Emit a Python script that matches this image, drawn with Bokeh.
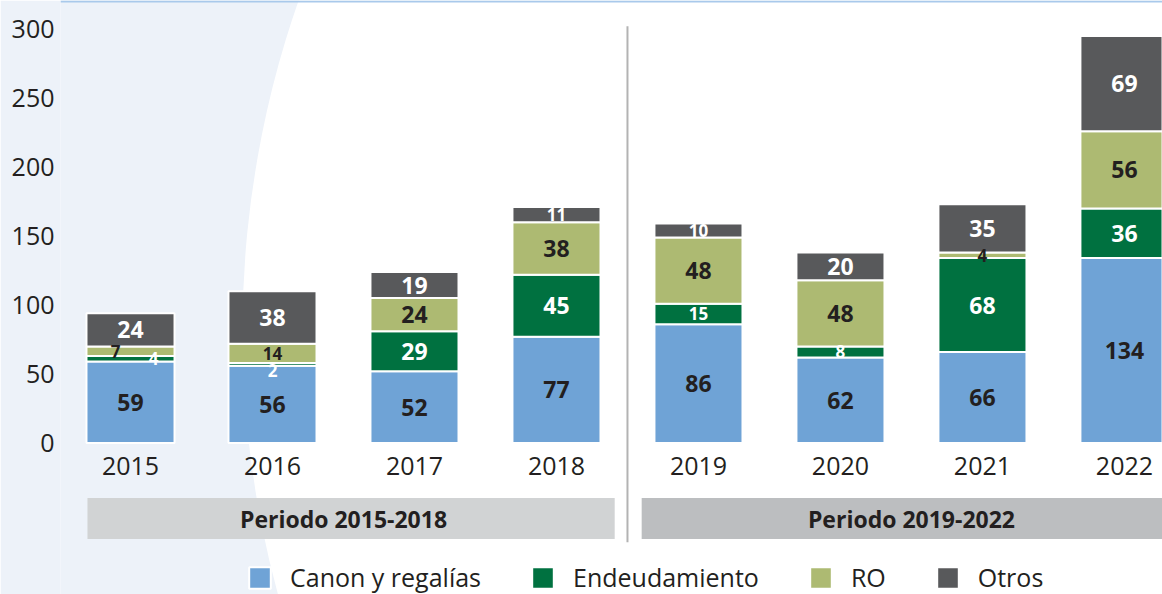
from bokeh.plotting import figure
from bokeh.models import ColumnDataSource, Range1d, FixedTicker, Legend, LegendItem, Span
from bokeh.core.properties import value
from bokeh.embed import file_html
from bokeh.resources import INLINE

# ---------------- data ----------------
years = ["2015", "2016", "2017", "2018", "2019", "2020", "2021", "2022"]
canon = [59, 56, 52, 77, 86, 62, 66, 134]
endeudamiento = [4, 2, 29, 45, 15, 8, 68, 36]
ro = [7, 14, 24, 38, 48, 48, 4, 56]
otros = [24, 38, 19, 11, 10, 20, 35, 69]
series_labels = ["Canon y regalías", "Endeudamiento", "RO", "Otros"]
periods = ["Periodo 2015-2018", "Periodo 2019-2022"]
period_years = [years[0:4], years[4:8]]
y_ticks = [0, 50, 100, 150, 200, 250, 300]

# ---------------- styles ----------------
colors = ["#6fa3d6", "#007140", "#adba72", "#58595b"]
label_colors = ["#231f20", "#ffffff", "#231f20", "#ffffff"]
band_colors = ["#d1d3d4", "#bcbec0"]
bg_blue = "#edf2f9"
dark = "#231f20"
FONT = "Open Sans"

series_keys = ["canon", "endeud", "ro", "otros"]
series_vals = [canon, endeudamiento, ro, otros]
xs = list(range(len(years)))

src = ColumnDataSource(dict(x=xs, canon=canon, endeud=endeudamiento, ro=ro, otros=otros))

p = figure(width=1162, height=594, output_backend="svg", toolbar_location=None,
           x_range=Range1d(-0.493, 7.268), y_range=Range1d(-109.8, 320.7),
           x_axis_location=None, min_border_left=60, min_border_right=0,
           min_border_top=0, min_border_bottom=0)
p.background_fill_color = bg_blue
p.border_fill_color = bg_blue
p.outline_line_color = None
p.xgrid.visible = False
p.ygrid.visible = False

# background white disk (decorative)
p.scatter(x=[7.831], y=[81.5], size=2000, marker="circle", fill_color="white", line_color=None)

# top thin line
p.add_layout(Span(location=320.0, dimension="width", line_color="#a9c9eb", line_width=2))

# y axis
ax = p.yaxis[0]
ax.ticker = FixedTicker(ticks=y_ticks)
ax.axis_line_color = None
ax.major_tick_line_color = None
ax.minor_tick_line_color = None
ax.major_tick_out = 0
ax.major_tick_in = 0
ax.major_label_text_font = FONT
ax.major_label_text_font_size = "25px"
ax.major_label_text_color = dark
ax.major_label_standoff = 6

# bars
bar_w = 0.62
rs = p.vbar_stack(series_keys, x="x", width=bar_w, color=colors, source=src,
                  line_color="white", line_width=2)

# divider between periods
p.segment(x0=[3.5], y0=[302], x1=[3.5], y1=[-72], line_color="#b3b3b3", line_width=2)

# segment labels
lx, ly, lt, lc, ls, ldx, ldy = [], [], [], [], [], [], []
special = {(0, 2): (-15, 0), (0, 1): (23, 0), (1, 1): (0, 6)}
for i in xs:
    base = 0
    for s, vals in enumerate(series_vals):
        v = vals[i]
        lx.append(i)
        ly.append(base + v / 2)
        lt.append(str(v))
        lc.append(label_colors[s])
        ls.append("23px" if v >= 19 else "17px")
        dx, dy = special.get((i, s), (0, 0))
        ldx.append(dx)
        ldy.append(dy)
        base += v
lsrc = ColumnDataSource(dict(x=lx, y=ly, text=lt, color=lc, size=ls, dx=ldx, dy=ldy))
p.text(x="x", y="y", text="text", source=lsrc, text_align="center", text_baseline="middle",
       text_font=value(FONT), text_font_style="bold", text_color="color",
       text_font_size="size", x_offset="dx", y_offset="dy")

# year labels
p.text(x=xs, y=[-16.7] * len(xs), text=years, text_align="center", text_baseline="middle",
       text_font=value(FONT), text_font_size="25px", text_color=dark)

# period bands
band_left = [xs[0] - 0.303, 3.6]
band_right = [3.41, 7.6]
p.quad(left=band_left, right=band_right, top=[-39.9, -39.9], bottom=[-69.6, -69.6],
       fill_color=band_colors, line_color=None)
centers = [sum(years.index(y) for y in g) / len(g) for g in period_years]
p.text(x=centers, y=[-54.8, -54.8], text=periods, text_align="center", text_baseline="middle",
       text_font=value(FONT), text_font_style="bold", text_font_size="23px", text_color=dark)

# legend
legend = Legend(items=[LegendItem(label=series_labels[k], renderers=[rs[k]]) for k in range(4)],
                orientation="horizontal", location=(186, 0))
legend.glyph_width = 27
legend.glyph_height = 27
legend.label_standoff = 17
legend.spacing = 48
legend.padding = 0
legend.margin = 0
legend.border_line_color = None
legend.background_fill_alpha = 0
legend.label_text_font = FONT
legend.label_text_font_size = "25px"
legend.label_text_color = dark
legend.label_height = 27
p.add_layout(legend)

open("out.html", "w").write(file_html(p, INLINE))
